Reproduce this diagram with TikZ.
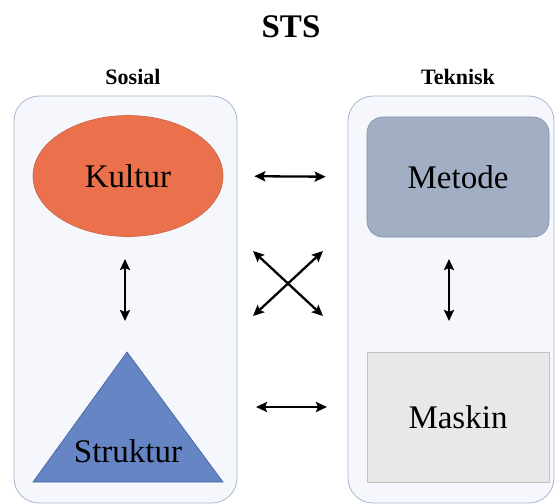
\documentclass[tikz,border=0pt]{standalone}
\usepackage{fontspec}
\setmainfont{Liberation Serif}
\usetikzlibrary{shapes.geometric,arrows.meta}

\definecolor{panelfill}{HTML}{F5F7FC}
\definecolor{panelline}{HTML}{A9B6CF}
\definecolor{kulturfill}{HTML}{EA714B}
\definecolor{kulturline}{HTML}{C9643F}
\definecolor{strukfill}{HTML}{6585C5}
\definecolor{strukline}{HTML}{3F5E9C}
\definecolor{metodefill}{HTML}{A2AEC4}
\definecolor{metodeline}{HTML}{7D8CA8}
\definecolor{maskinfill}{HTML}{E8E8E8}
\definecolor{maskinline}{HTML}{C2C2C2}

\tikzset{
  panel/.style={draw=panelline, fill=panelfill, line width=0.8pt, rounded corners=25pt},
  bigtext/.style={font=\fontsize{33}{36}\selectfont, inner sep=0pt},
  headtext/.style={font=\fontsize{22}{24}\selectfont\bfseries, inner sep=0pt},
  link/.style={line width=2.3pt, {Stealth[length=11pt,width=10pt,inset=2pt]}-{Stealth[length=11pt,width=10pt,inset=2pt]}}
}

\begin{document}
\begin{tikzpicture}[x=1pt, y=-1pt]
  % canvas
  \fill[white] (0,0) rectangle (558,504);
  \useasboundingbox (0,0) rectangle (558,504);

  % title and column headings
  \node[font=\fontsize{33}{36}\selectfont\bfseries, inner sep=0pt, anchor=base] (title) at (291,37) {STS};
  \node[headtext, anchor=base] (sosial) at (133,84) {Sosial};
  \node[headtext, anchor=base] (teknisk) at (458,84) {Teknisk};

  % the two panels
  \path[panel] (14,96) rectangle (237,503);
  \path[panel] (348,96) rectangle (554,503);

  % social side
  \node[ellipse, draw=kulturline, fill=kulturfill, line width=0.6pt,
        minimum width=190pt, minimum height=121pt, bigtext] (kultur) at (128,176) {Kultur};

  \coordinate (apex) at (127,352);
  \coordinate (baseL) at (33,482);
  \coordinate (baseR) at (223,482);
  \filldraw[fill=strukfill, draw=strukline, line width=0.6pt] (apex) -- (baseR) -- (baseL) -- cycle;
  \node[bigtext, anchor=base] (struktur) at (128,462) {Struktur};

  % technical side
  \node[draw=metodeline, fill=metodefill, line width=0.6pt, rounded corners=16pt,
        minimum width=182pt, minimum height=120pt, bigtext] (metode) at (458,177) {Metode};
  \node[draw=maskinline, fill=maskinfill, line width=0.6pt,
        minimum width=182pt, minimum height=130pt, bigtext] (maskin) at (458,417) {Maskin};

  % links within each side
  \coordinate (sosTop) at (125,259);
  \coordinate (sosBot) at (125,321);
  \draw[link] (sosTop) -- (sosBot);
  \coordinate (tekTop) at (449,259);
  \coordinate (tekBot) at (449,321);
  \draw[link] (tekTop) -- (tekBot);

  % links across the sides
  \draw[link, shorten <=31pt, shorten >=41pt] (kultur.east) -- (metode.west);

  \coordinate (lowL) at (256,407);
  \coordinate (lowR) at (327,407);
  \draw[link] (lowL) -- (lowR);

  \coordinate (xTL) at (253,251);
  \coordinate (xTR) at (323,251);
  \coordinate (xBL) at (253,316);
  \coordinate (xBR) at (323,316);
  \draw[link] (xTL) -- (xBR);
  \draw[link] (xTR) -- (xBL);
\end{tikzpicture}
\end{document}
